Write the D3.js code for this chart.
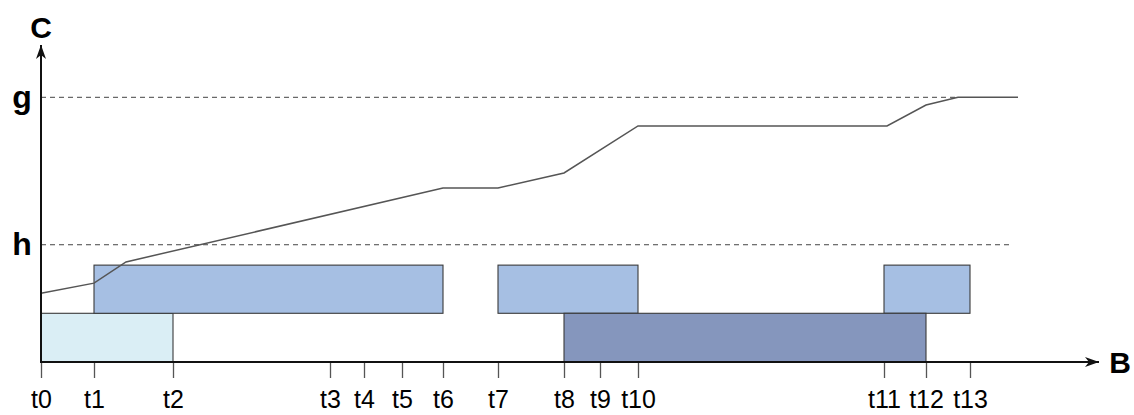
<!DOCTYPE html>
<html>
<head>
<meta charset="utf-8">
<script src="https://cdn.jsdelivr.net/npm/d3@7"></script>
<style>
  html, body { margin: 0; padding: 0; background: #fff; }
  svg { display: block; }
  text { font-family: "Liberation Sans", Arial, sans-serif; fill: #000; }
</style>
</head>
<body>
<svg id="chart" width="1134" height="415"></svg>
<script>
// Time points along B (tick labels and their positions in time units)
const tickLabels = ["t0","t1","t2","t3","t4","t5","t6","t7","t8","t9","t10","t11","t12","t13"];
const tickTimes  = [0, 5.3, 13.2, 28.9, 32.3, 36.1, 40.2, 45.7, 52.3, 55.9, 59.7, 84.3, 88.5, 92.9];

// Reference levels on C
const levelNames  = ["g", "h"];
const levelValues = [100, 44.3];
const levelEnds   = [91.7, 97.0];   // where each dashed level line stops (time units)

// Interval bars: [start tick, end tick, lower level, upper level, kind]
const barStarts = ["t0", "t1", "t7", "t11", "t8"];
const barEnds   = ["t2", "t6", "t10", "t13", "t12"];
const barLow    = [0, 18.4, 18.4, 18.4, 0];
const barHigh   = [18.4, 36.6, 36.6, 36.6, 18.4];
const barKind   = ["light", "mid", "mid", "mid", "dark"];

// Cumulative curve C(B)
const curveTimes  = [0, 5.3, 8.5, 40.2, 45.7, 52.3, 59.7, 84.6, 88.5, 91.7, 97.7];
const curveValues = [26.0, 29.8, 37.8, 65.7, 65.7, 71.4, 89.2, 89.2, 97.1, 100, 100];

const colors = { light: "#daeef5", mid: "#a6bfe3", dark: "#8596bd" };

const svg = d3.select("#chart");
const x = d3.scaleLinear().domain([0, 100]).range([41, 1041]);
const y = d3.scaleLinear().domain([0, 100]).range([362, 97.3]);
const tIndex = name => tickLabels.indexOf(name);

// Arrow marker
const defs = svg.append("defs");
defs.append("marker")
  .attr("id", "arrow")
  .attr("viewBox", "0 0 14 10")
  .attr("refX", 14).attr("refY", 5)
  .attr("markerWidth", 14).attr("markerHeight", 10)
  .attr("markerUnits", "userSpaceOnUse")
  .attr("orient", "auto")
  .append("path")
  .attr("d", "M0,0 L14,5 L0,10 L4,5 Z")
  .attr("fill", "#111");

// Dashed reference levels
svg.append("g").selectAll("line")
  .data(levelValues)
  .join("line")
  .attr("x1", x(0)).attr("x2", (d, i) => x(levelEnds[i]))
  .attr("y1", d => y(d)).attr("y2", d => y(d))
  .attr("stroke", "#444").attr("stroke-width", 1)
  .attr("stroke-dasharray", "5,4");

// Level labels
svg.append("g").selectAll("text")
  .data(levelValues)
  .join("text")
  .attr("x", 22).attr("y", d => y(d))
  .attr("dy", "0.32em")
  .attr("text-anchor", "middle")
  .attr("font-size", 32).attr("font-weight", "bold")
  .text((d, i) => levelNames[i]);

// Interval bars
svg.append("g").selectAll("rect")
  .data(barStarts.map((s, i) => i))
  .join("rect")
  .attr("x", i => x(tickTimes[tIndex(barStarts[i])]))
  .attr("width", i => x(tickTimes[tIndex(barEnds[i])]) - x(tickTimes[tIndex(barStarts[i])]))
  .attr("y", i => y(barHigh[i]))
  .attr("height", i => y(barLow[i]) - y(barHigh[i]))
  .attr("fill", i => colors[barKind[i]])
  .attr("stroke", "#3a3a3a").attr("stroke-width", 1.1);

// Curve
svg.append("path")
  .datum(curveTimes.map((t, i) => [t, curveValues[i]]))
  .attr("fill", "none")
  .attr("stroke", "#555").attr("stroke-width", 1.5)
  .attr("d", d3.line().x(d => x(d[0])).y(d => y(d[1])));

// B axis with ticks
const xAxis = d3.axisBottom(x)
  .tickValues(tickTimes)
  .tickFormat((d, i) => tickLabels[i])
  .tickSize(16).tickPadding(12);
const gx = svg.append("g").attr("transform", `translate(0,${y(0)})`).call(xAxis);
gx.select(".domain").remove();
gx.selectAll(".tick line").attr("stroke", "#555").attr("stroke-width", 1.3);
gx.selectAll(".tick text")
  .attr("font-size", 25)
  .attr("font-family", "'Liberation Sans', Arial, sans-serif")
  .attr("fill", "#000");

// Axis lines with arrowheads
svg.append("line")
  .attr("x1", x(0) - 1).attr("x2", x(105.8))
  .attr("y1", y(0)).attr("y2", y(0))
  .attr("stroke", "#111").attr("stroke-width", 2)
  .attr("marker-end", "url(#arrow)");
svg.append("line")
  .attr("x1", x(0)).attr("x2", x(0))
  .attr("y1", y(0)).attr("y2", y(119.8))
  .attr("stroke", "#111").attr("stroke-width", 2)
  .attr("marker-end", "url(#arrow)");

// Axis titles
svg.append("text")
  .attr("x", x(0)).attr("y", 27).attr("dy", "0.35em")
  .attr("text-anchor", "middle")
  .attr("font-size", 30).attr("font-weight", "bold")
  .text("C");
svg.append("text")
  .attr("x", 1120).attr("y", y(0)).attr("dy", "0.35em")
  .attr("text-anchor", "middle")
  .attr("font-size", 30).attr("font-weight", "bold")
  .text("B");
</script>
</body>
</html>
